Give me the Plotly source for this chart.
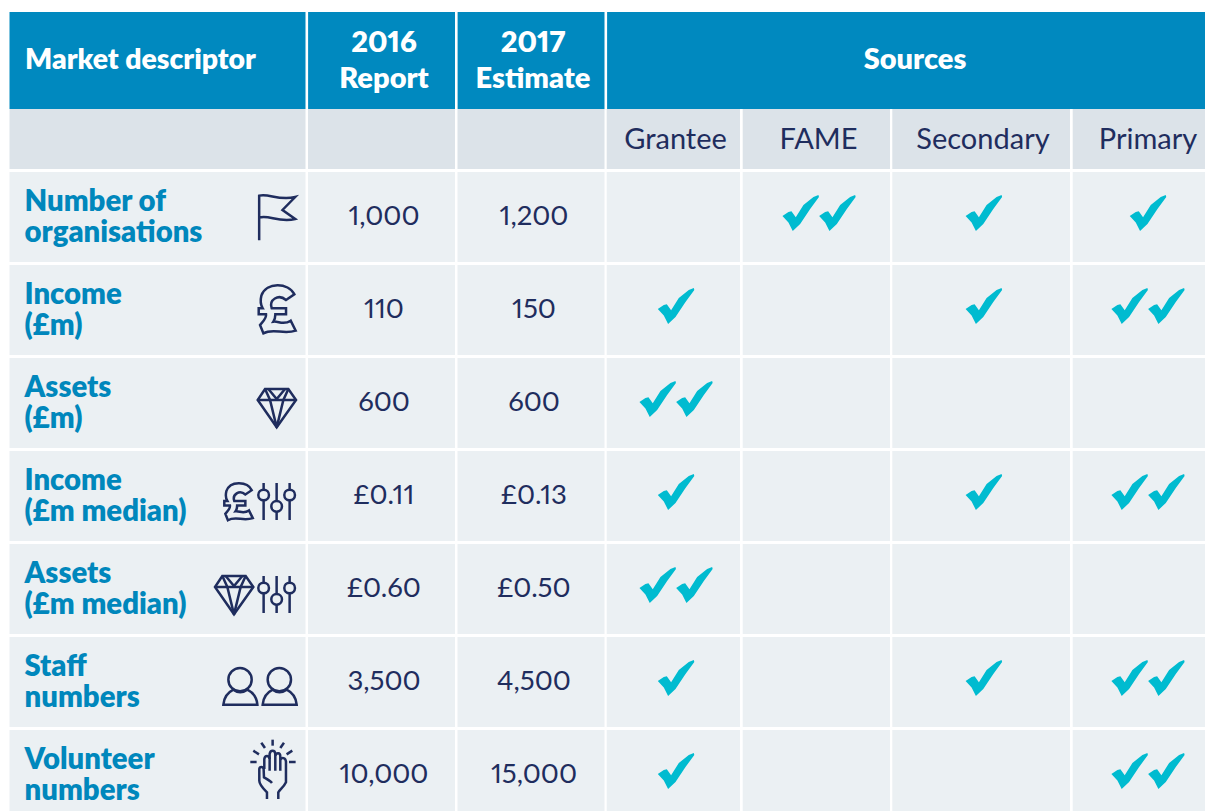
import re
import plotly.graph_objects as go

# ---- data ----
descriptor_line1 = ["Number of", "Income", "Assets", "Income", "Assets", "Staff", "Volunteer"]
descriptor_line2 = ["organisations", "(£m)", "(£m)", "(£m median)", "(£m median)", "numbers", "numbers"]
report_2016 = ["1,000", "110", "600", "£0.11", "£0.60", "3,500", "10,000"]
estimate_2017 = ["1,200", "150", "600", "£0.13", "£0.50", "4,500", "15,000"]
source_names = ["Grantee", "FAME", "Secondary", "Primary"]
grantee = [0, 1, 2, 1, 2, 1, 1]
fame = [2, 0, 0, 0, 0, 0, 0]
secondary = [1, 1, 0, 1, 0, 1, 0]
primary = [1, 2, 0, 2, 0, 2, 2]
row_icons = [["flag"], ["pound"], ["diamond"], ["pound_s", "sliders"], ["diamond_m", "sliders"], ["persons"], ["hand"]]

# ---- layout constants ----
W, H = 1205, 811
BLUE, GREY, PALE, WHITE = "#0089BF", "#DCE3E9", "#EBF0F3", "#FFFFFF"
LABEL, NAVY, TICK = "#0087BC", "#1F2D5E", "#00BBD0"
FONT = "Lato"
COLS = [(9.5, 305.5), (308, 455), (457.5, 604.5), (606.7, 740), (742.7, 890), (892.3, 1070), (1072.7, 1205)]
ROW_TOP, ROW_H, ROW_STEP = 172, 90, 93

fig = go.Figure()
shapes = []


def rect(x0, y0, x1, y1, c):
    shapes.append(dict(type="rect", xref="x", yref="y", x0=x0, y0=y0, x1=x1, y1=y1,
                       fillcolor=c, line_width=0, layer="below"))


def place(path, ox, oy, scale=1 / 3):
    toks = re.findall(r"[MLCZ]|-?\d+\.?\d*", path)
    out, isx = [], True
    for t in toks:
        if t in "MLCZ":
            out.append(t)
            isx = True
        else:
            v = float(t) * scale + (ox if isx else oy)
            out.append(f"{v:.2f}")
            isx = not isx
    return " ".join(out)


def stroke(path, width=2.5, color=NAVY):
    shapes.append(dict(type="path", xref="x", yref="y", path=path, line=dict(color=color, width=width),
                       fillcolor="rgba(0,0,0,0)", layer="above"))


def circle_path(cx, cy, r):
    k = 0.5523 * r
    return (f"M {cx - r} {cy} C {cx - r} {cy - k} {cx - k} {cy - r} {cx} {cy - r} "
            f"C {cx + k} {cy - r} {cx + r} {cy - k} {cx + r} {cy} "
            f"C {cx + r} {cy + k} {cx + k} {cy + r} {cx} {cy + r} "
            f"C {cx - k} {cy + r} {cx - r} {cy + k} {cx - r} {cy} Z")


POUND = ("M 107 28 C 90 -8 22 -10 8 32 C 4 48 6 60 12 70 L 0 70 L 0 88 L 22 88 C 24 100 14 108 4 120 L 14 145 "
         "C 44 128 74 150 111 137 L 96 107 C 74 122 60 108 44 110 C 48 104 50 96 50 88 L 82 88 L 82 70 L 39 70 "
         "C 30 45 59 25 82 45 Z")
DIAMOND = ["M 22 0 L 92 0 L 115 33 L 57 115 L 0 33 Z", "M 0 33 L 115 33",
           "M 22 0 L 37 33 L 57 115 L 77 33 L 92 0", "M 32 0 L 57 30 L 82 0"]
FLAG = ["M 2 136 L 2 2 C 30 -6 60 18 110 6 L 72 45 L 110 72 C 60 84 30 58 2 68"]
SLIDER_X = [0, 39, 78]
SLIDER_C = [36, 70, 36]
PERSON = ["M 2 110 L 104 110 C 102 85 88 72 74 65 C 60 75 45 75 32 65 C 18 72 4 85 2 110 Z"]
HAND = ["M 50 180 L 50 160 C 35 145 27 135 27 125 L 27 90 C 28 82 38 82 40 90 L 41 115 C 50 120 60 125 65 132",
        "M 42 90 L 42 60 C 44 48 56 48 58 60 L 58 95", "M 58 60 L 58 45 C 60 32 74 32 75 45 L 75 95",
        "M 75 50 C 78 40 90 40 90 52 L 90 95", "M 90 62 C 94 54 106 56 107 68 L 107 130 C 100 145 90 150 84 160 L 84 180",
        "M 67 2 L 67 20", "M 33 11 L 44 27", "M 101 11 L 90 27", "M 9 35 L 26 46", "M 126 35 L 109 46",
        "M 0 69 L 19 69", "M 116 69 L 136 69"]


def draw_sliders(ox, oy):
    for x, c in zip(SLIDER_X, SLIDER_C):
        stroke(place(f"M {x + 16} 0 L {x + 16} {c - 16}", ox, oy))
        stroke(place(f"M {x + 16} {c + 16} L {x + 16} 111", ox, oy))
        stroke(place(circle_path(x + 16, c, 16), ox, oy))


def draw_icon(name, top):
    if name == "flag":
        for p in FLAG:
            stroke(place(p, 258.5, top + 23))
    elif name == "pound":
        stroke(place(POUND, 258.7, top + 20))
    elif name == "pound_s":
        stroke(place(POUND, 224.3, top + 32, 1 / 3 * 0.77))
    elif name == "diamond":
        for p in DIAMOND:
            stroke(place(p, 257.7, top + 31))
    elif name == "diamond_m":
        for p in DIAMOND:
            stroke(place(p, 215, top + 32))
    elif name == "sliders":
        draw_sliders(258.3, top + 32)
    elif name == "persons":
        for dx in (0, 39.3):
            stroke(place(circle_path(52, 35, 35), 222.7 + dx, top + 31))
            for p in PERSON:
                stroke(place(p, 222.7 + dx, top + 31))
    elif name == "hand":
        for p in HAND:
            stroke(place(p, 250.3, top + 9))


# ---- cell backgrounds ----
rect(9.5, 12, 1205, 109, BLUE)
for x0, x1 in COLS:
    rect(x0, 109, x1, 169, GREY)
for x in (305.5, 455, 604.5):
    rect(x, 12, x + 2.6, 109, WHITE)

row_tops = [ROW_TOP + i * ROW_STEP for i in range(len(descriptor_line1))]
for top in row_tops:
    for x0, x1 in COLS:
        rect(x0, top, x1, min(top + ROW_H, H), PALE)
for top, icons in zip(row_tops, row_icons):
    for name in icons:
        draw_icon(name, top)


def text_trace(xs, ys, texts, color, size, weight=400, pos="middle center"):
    fig.add_trace(go.Scatter(x=xs, y=ys, text=texts, mode="text", textposition=pos, hoverinfo="skip",
                             showlegend=False, cliponaxis=False,
                             textfont=dict(family=FONT, size=size, color=color, weight=weight)))


VX = [384, 533]

# header text
text_trace([25], [62], ["Market descriptor"], WHITE, 28.4, 800, "middle right")
text_trace([VX[0], VX[0], VX[1], VX[1]], [44.5, 81, 44.5, 81], ["2016", "Report", "2017", "Estimate"], WHITE, 29, 800)
text_trace([915], [62], ["Sources"], WHITE, 29, 800)
text_trace([675.5, 818.5, 983, 1148], [142] * 4, source_names, NAVY, 29)

# row text
text_trace([24.5] * 7, [t + 31.5 for t in row_tops], descriptor_line1, LABEL, 29.3, 800, "middle right")
text_trace([24.5] * 7, [t + 63 for t in row_tops], descriptor_line2, LABEL, 29.3, 800, "middle right")
text_trace([VX[0]] * 7, [t + 46.5 for t in row_tops], report_2016, NAVY, 27.5)
text_trace([VX[1] + 1] * 7, [t + 46.5 for t in row_tops], estimate_2017, NAVY, 27.5)

# ticks: one filled trace per source column
CHECK = [(0, 21), (6, 17), (9, 16.3), (13.3, 22.3), (21, 10), (31, 2), (36, 0), (36.5, 2),
         (27.7, 14), (17.7, 29), (10.3, 36), (6, 27.6), (0, 21)]
CHECK_W, CHECK_STEP = 36.5, 36.7
for col, counts in zip(COLS[3:], [grantee, fame, secondary, primary]):
    xs, ys = [], []
    mid = (col[0] + col[1]) / 2 + 2.7
    if col[1] == W:
        mid = 1148
    for top, n in zip(row_tops, counts):
        start = mid - (CHECK_W + (n - 1) * CHECK_STEP) / 2
        for k in range(n):
            for px, py in CHECK:
                xs.append(start + k * CHECK_STEP + px)
                ys.append(top + 23 + py)
            xs.append(None)
            ys.append(None)
    fig.add_trace(go.Scatter(x=xs, y=ys, mode="lines", fill="toself", fillcolor=TICK, hoverinfo="skip",
                             line=dict(width=0, color=TICK), showlegend=False))

fig.update_layout(width=W, height=H, margin=dict(l=0, r=0, t=0, b=0), paper_bgcolor=WHITE, plot_bgcolor=WHITE,
                  shapes=shapes, showlegend=False,
                  xaxis=dict(range=[0, W], visible=False, fixedrange=True),
                  yaxis=dict(range=[H, 0], visible=False, fixedrange=True))
fig.write_html("out.html", config=dict(displayModeBar=False),
               post_script="document.body.style.margin='0';document.documentElement.style.overflow='hidden';"
                           "var s=document.createElement('style');s.textContent='svg text{font-feature-settings:\"pnum\"}';"
                           "document.head.appendChild(s);")
